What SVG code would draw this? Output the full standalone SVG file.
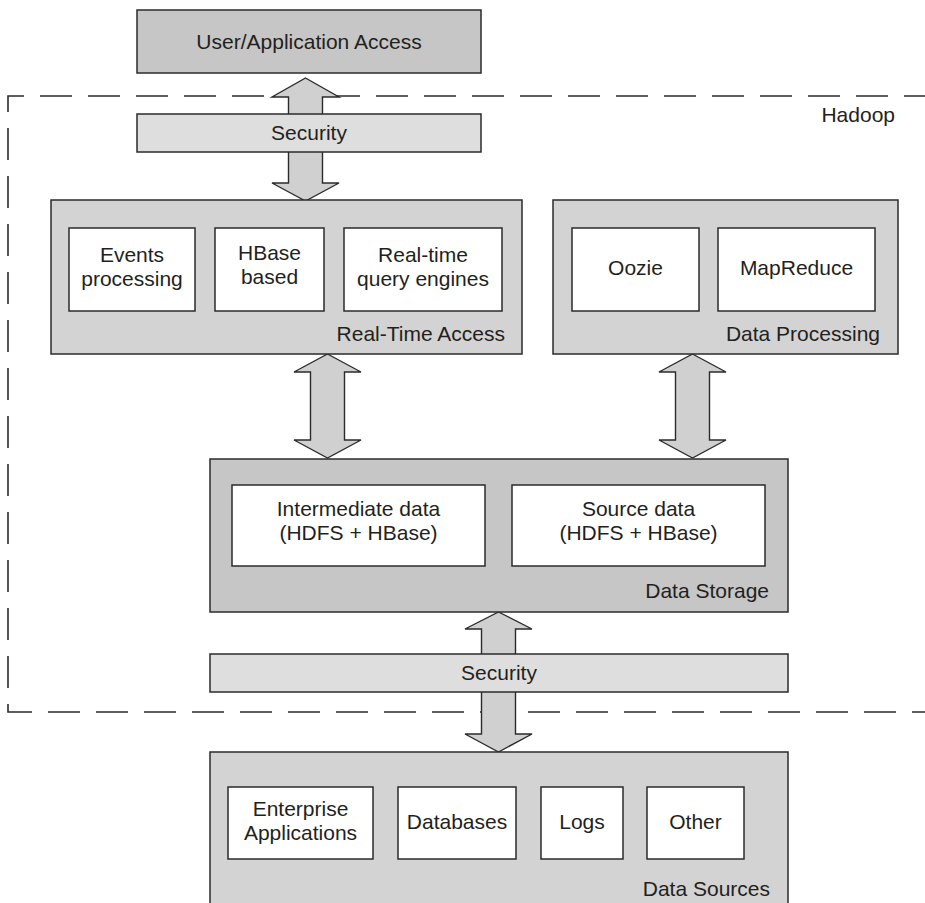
<svg xmlns="http://www.w3.org/2000/svg" width="925" height="903" viewBox="0 0 925 903">
<style>
text{font-family:"Liberation Sans",Arial,sans-serif;font-size:21px;fill:#231f20}
.c{text-anchor:middle}
.e{text-anchor:end}
.box{stroke:#2b2b2b;stroke-width:1.5}
.dark{fill:#c6c6c6}
.mid{fill:#d3d3d3}
.light{fill:#dedede}
.white{fill:#ffffff}
.arrow{fill:#d0d0d0;stroke:#2b2b2b;stroke-width:1.4;stroke-linejoin:miter}
</style>
<rect width="925" height="903" fill="#ffffff"/>
<g id="hadoop">
<path d="M940,96 L8,96 L8,712 L940,712" fill="none" stroke="#2b2b2b" stroke-width="1.6" stroke-dasharray="32 16" stroke-dashoffset="44"/>
<text x="895" y="122" class="e">Hadoop</text>
</g>
<g id="connectors">
<path class="arrow" d="M305.5,78 L339,97 L322.5,97 L322.5,183 L339,183 L305.5,201 L272,183 L288.5,183 L288.5,97 L272,97 Z"/>
<path class="arrow" d="M327.5,354 L361,372 L344.5,372 L344.5,440 L361,440 L327.5,458 L294,440 L310.5,440 L310.5,372 L294,372 Z"/>
<path class="arrow" d="M692.5,354 L726,372 L709.5,372 L709.5,440 L726,440 L692.5,458 L659,440 L675.5,440 L675.5,372 L659,372 Z"/>
<path class="arrow" d="M498.5,612 L532,629 L515.5,629 L515.5,734 L532,734 L498.5,752 L465,734 L481.5,734 L481.5,629 L465,629 Z"/>
</g>
<g id="user-access">
<rect class="box dark" x="137" y="10" width="344" height="63"/>
<text x="309" y="49" class="c">User/Application Access</text>
</g>
<g id="security-top">
<rect class="box light" x="137" y="114" width="344" height="38"/>
<text x="309" y="140" class="c">Security</text>
</g>
<g id="real-time-access">
<rect class="box mid" x="51" y="200" width="471" height="154"/>
<text x="505" y="341" class="e">Real-Time Access</text>
</g>
<g id="events-processing">
<rect class="box white" x="69" y="228" width="126" height="83"/>
<text x="132" y="262" class="c">Events</text>
<text x="132" y="286" class="c">processing</text>
</g>
<g id="hbase-based">
<rect class="box white" x="215" y="228" width="109" height="83"/>
<text x="269.5" y="260" class="c">HBase</text>
<text x="269.5" y="284" class="c">based</text>
</g>
<g id="real-time-query">
<rect class="box white" x="344" y="228" width="158" height="83"/>
<text x="423" y="262" class="c">Real-time</text>
<text x="423" y="286" class="c">query engines</text>
</g>
<g id="data-processing">
<rect class="box mid" x="553" y="200" width="345" height="154"/>
<text x="880" y="341" class="e">Data Processing</text>
</g>
<g id="oozie">
<rect class="box white" x="572" y="228" width="127" height="83"/>
<text x="635.5" y="275" class="c">Oozie</text>
</g>
<g id="mapreduce">
<rect class="box white" x="718" y="228" width="157" height="83"/>
<text x="796.5" y="275" class="c">MapReduce</text>
</g>
<g id="data-storage">
<rect class="box dark" x="210" y="459" width="578" height="153"/>
<text x="769" y="598" class="e">Data Storage</text>
</g>
<g id="intermediate-data">
<rect class="box white" x="232" y="485" width="253" height="81"/>
<text x="358.5" y="516" class="c">Intermediate data</text>
<text x="358.5" y="540" class="c">(HDFS + HBase)</text>
</g>
<g id="source-data">
<rect class="box white" x="512" y="485" width="253" height="81"/>
<text x="638.5" y="516" class="c">Source data</text>
<text x="638.5" y="540" class="c">(HDFS + HBase)</text>
</g>
<g id="security-bottom">
<rect class="box light" x="210" y="654" width="578" height="38"/>
<text x="499" y="680" class="c">Security</text>
</g>
<g id="data-sources">
<rect class="box mid" x="210" y="752" width="578" height="170"/>
<text x="770" y="896" class="e">Data Sources</text>
</g>
<g id="enterprise-applications">
<rect class="box white" x="228" y="787" width="145" height="72"/>
<text x="300.5" y="816" class="c">Enterprise</text>
<text x="300.5" y="840" class="c">Applications</text>
</g>
<g id="databases">
<rect class="box white" x="398" y="787" width="118" height="72"/>
<text x="457" y="829" class="c">Databases</text>
</g>
<g id="logs">
<rect class="box white" x="541" y="787" width="82" height="72"/>
<text x="582" y="829" class="c">Logs</text>
</g>
<g id="other">
<rect class="box white" x="647" y="787" width="97" height="72"/>
<text x="695.5" y="829" class="c">Other</text>
</g>
</svg>
